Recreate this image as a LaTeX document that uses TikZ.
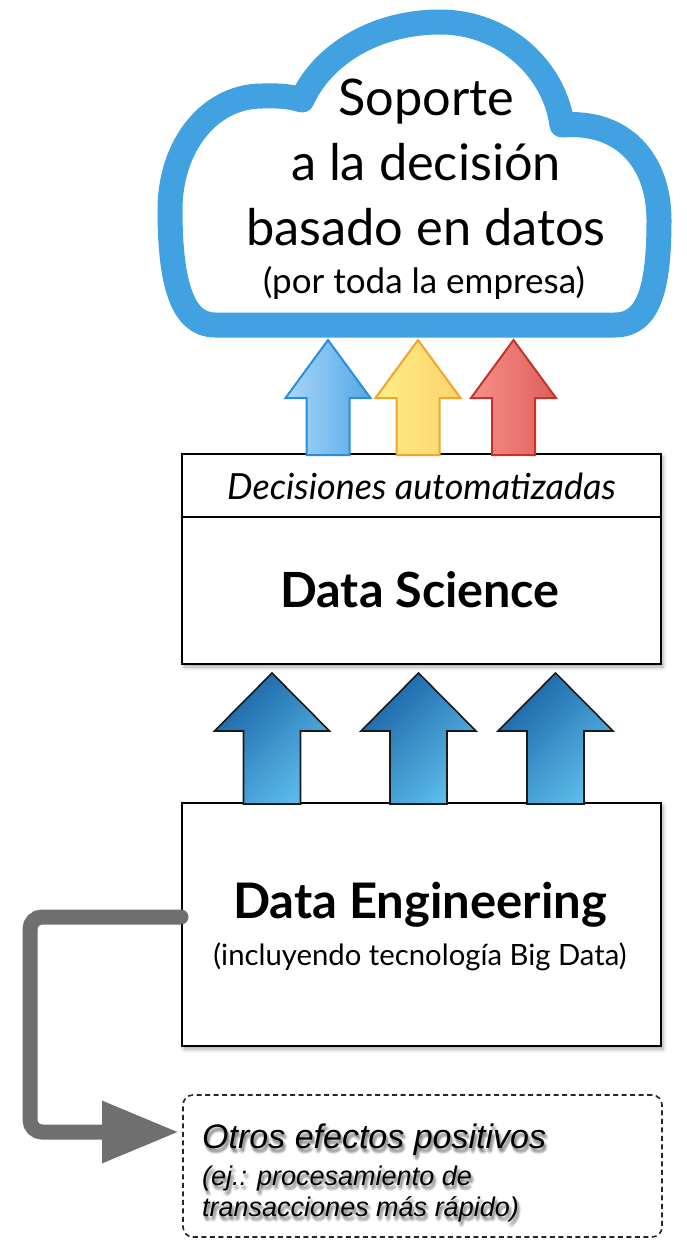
\documentclass[tikz,border=0pt]{standalone}
\usepackage{fontspec}
\setmainfont{Lato}
\newfontfamily\helv{Liberation Sans}
\usetikzlibrary{arrows.meta,shadows.blur}

\definecolor{cloudblue}{HTML}{42A1E1}
\definecolor{ltblueA}{HTML}{A9D6F8}
\definecolor{ltblueB}{HTML}{52A8E6}
\definecolor{ltblueE}{HTML}{2C8DD6}
\definecolor{yelA}{HTML}{FFEE88}
\definecolor{yelB}{HTML}{FCD26A}
\definecolor{yelE}{HTML}{F0A52C}
\definecolor{redA}{HTML}{F89089}
\definecolor{redB}{HTML}{DE5E5A}
\definecolor{redE}{HTML}{C2352C}
\definecolor{dkblueA}{HTML}{1A64A6}
\definecolor{dkblueB}{HTML}{5CBCEA}
\definecolor{flowgray}{HTML}{6F6F6F}

\tikzset{
  % block arrow pointing up; base centre at the pic origin
  % args: half shaft width / half head width / head base height / tip height
  pics/uparrow/.style args={#1/#2/#3/#4}{code={
    \path[pic actions] (-#1,0) -- (-#1,-#3) -- (-#2,-#3) -- (0,-#4)
      -- (#2,-#3) -- (#1,-#3) -- (#1,0) -- cycle;
  }},
  boxshadow/.style={blur shadow={shadow xshift=2pt, shadow yshift=-3pt,
      shadow blur radius=4pt, shadow opacity=35}},
  panel/.style={draw=black, line width=2pt, fill=white, inner sep=0pt,
      minimum width=479pt, boxshadow},
  cloudline/.style={draw=cloudblue, line width=25pt, fill=white, line join=round},
  smallarrow/.style={line width=2pt, line join=miter},
  bluearrow/.style={smallarrow, draw=ltblueE, left color=ltblueA, right color=ltblueB},
  yellowarrow/.style={smallarrow, draw=yelE, left color=yelA, right color=yelB},
  redarrow/.style={smallarrow, draw=redE, left color=redA, right color=redB},
  bigarrow/.style={draw=black!90, line width=1.6pt, line join=miter,
      top color=dkblueA, bottom color=dkblueB, shading angle=45},
  cloudtext/.style={font=\fontsize{50.5}{60}\selectfont, inner sep=0pt, anchor=base},
  notetext/.style={inner sep=0pt, anchor=base west},
  noteshadow/.style={notetext, text=black, text opacity=0.07},
  flow/.style={draw=flowgray, line width=15pt, rounded corners=12pt,
      line cap=round, -{Triangle[length=77pt,width=58pt]}},
}

\begin{document}
\begin{tikzpicture}[x=1pt,y=-1pt]
\useasboundingbox (0,0) rectangle (686,1258);

% cloud
\path[cloudline] (215,325) -- (615,325)
  .. controls (650,325) and (659,285) .. (659,220)
  .. controls (659,160) and (622,120) .. (562,125)
  .. controls (555,70) and (505,22) .. (440,22)
  .. controls (375,22) and (322,55) .. (302,100)
  .. controls (285,95) and (275,96) .. (262,96)
  .. controls (210,96) and (170,145) .. (170,210)
  .. controls (170,285) and (183,325) .. (215,325) -- cycle;

\node[cloudtext] (c1) at (426,115) {Soporte};
\node[cloudtext] (c2) at (426,180) {a la decisión};
\node[cloudtext] (c3) at (426,245) {basado en datos};
\node[cloudtext, font=\fontsize{35}{42}\selectfont] (c4) at (424,293) {(por toda la empresa)};

% data science panel
\node[panel, minimum height=210pt] (ds) at (421.5,559) {};
\draw[line width=2pt] ([yshift=-64pt]ds.north west) -- ([yshift=-64pt]ds.north east);
\node[font=\itshape\fontsize{36}{43}\selectfont, inner sep=0pt, anchor=base] (dsh) at (421.5,499) {Decisiones automatizadas};
\node[font=\bfseries\fontsize{48.5}{58}\selectfont, inner sep=0pt, anchor=base] (dst) at (420,607) {Data Science};

% arrows from data science to the cloud
\pic[bluearrow]   (aB) at (328,455)   {uparrow={21.5/42.5/57/115}};
\pic[yellowarrow] (aY) at (418,455)   {uparrow={21.5/42.5/57/115}};
\pic[redarrow]    (aR) at (513.5,455) {uparrow={21.5/42.5/57/115}};

% data engineering panel
\node[panel, minimum height=243pt] (de) at (421.5,924.5) {};
\node[font=\bfseries\fontsize{49}{58}\selectfont, inner sep=0pt, anchor=base] (det) at (420,918) {Data Engineering};
\node[font=\fontsize{29.3}{35}\selectfont, inner sep=0pt, anchor=base] (des) at (420,965) {(incluyendo tecnología Big Data)};

% arrows from data engineering to data science
\pic[bigarrow] (b1) at (272,804)   {uparrow={28.5/57.5/73/131}};
\pic[bigarrow] (b2) at (418.5,804) {uparrow={28.5/57.5/73/131}};
\pic[bigarrow] (b3) at (555.5,804) {uparrow={28.5/57.5/73/131}};

% other effects
\node[draw=black!85, line width=1.6pt, dash pattern=on 5pt off 3.5pt, rounded corners=10pt,
      minimum width=479pt, minimum height=142pt, inner sep=0pt] (ob) at (422.5,1166) {};
% soft shadow under the note text
\foreach \dx/\dy in {0/2, 1/3, 2/4, 3/3, 2/2, 1/5, 3/5, 0/4, 2/6, 4/4} {
  \node[noteshadow, font=\helv\itshape\fontsize{34}{40}\selectfont] at (202+\dx,1148+\dy) {Otros efectos positivos};
  \node[noteshadow, font=\helv\itshape\fontsize{27}{32}\selectfont] at (202+\dx,1185+\dy) {(ej.: procesamiento de};
  \node[noteshadow, font=\helv\itshape\fontsize{27}{32}\selectfont] at (202+\dx,1216+\dy) {transacciones más rápido)};
}
\node[notetext, font=\helv\itshape\fontsize{34}{40}\selectfont] (o1) at (202,1148) {Otros efectos positivos};
\node[notetext, font=\helv\itshape\fontsize{27}{32}\selectfont] (o2) at (202,1185) {(ej.: procesamiento de};
\node[notetext, font=\helv\itshape\fontsize{27}{32}\selectfont] (o3) at (202,1216) {transacciones más rápido)};

% side flow from data engineering to other effects
\coordinate (k1) at (30,917);
\coordinate (k2) at (30,1132);
\draw[flow, shorten >=3pt] ([yshift=7.5pt]de.west) -- (k1) -- (k2) -- ([yshift=34pt]ob.west);

\end{tikzpicture}
\end{document}
